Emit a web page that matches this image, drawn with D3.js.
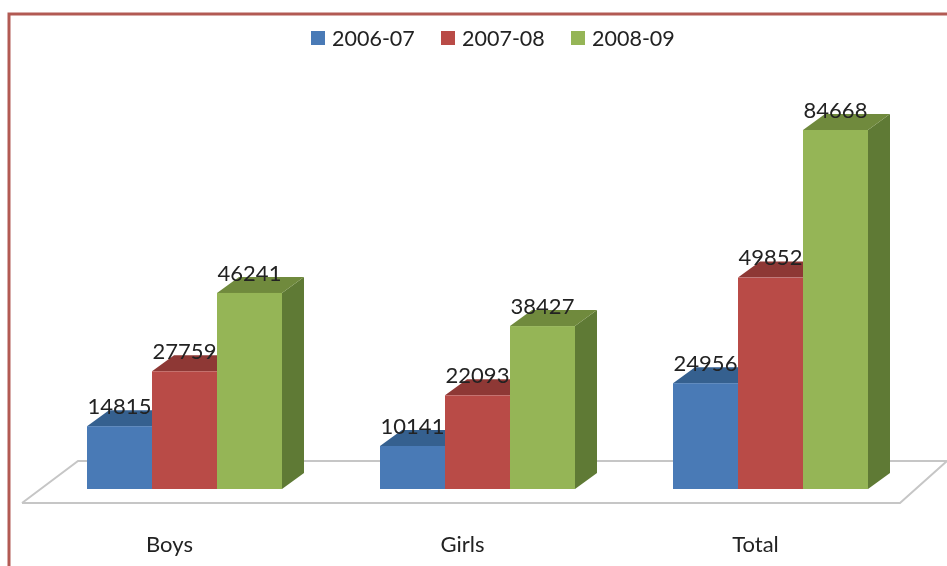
<!DOCTYPE html>
<html lang="en">
<head>
<meta charset="UTF-8" />
<title>Enrolment chart</title>
<style>
html, body { margin: 0; padding: 0; background: #fff; overflow: hidden; }
svg { display: block; }
text { font-family: Lato, "Open Sans", sans-serif; fill: #222; }
</style>
</head>
<body>
<svg id="chart" width="947" height="566"></svg>
<script src="https://cdn.jsdelivr.net/npm/d3@7"></script>
<script>
const categories = ['Boys', 'Girls', 'Total'];
const seriesNames = ['2006-07', '2007-08', '2008-09'];
const values2006 = [14815, 10141, 24956];
const values2007 = [27759, 22093, 49852];
const values2008 = [46241, 38427, 84668];
const seriesValues = [values2006, values2007, values2008];

const frontColors = ['#4a7ab6', '#b94b47', '#95b556'];
const topColors = ['#35608f', '#8e3835', '#708a3d'];
const sideColors = ['#2f557f', '#7d302e', '#5f7a34'];

const depthX = 22, depthY = -16; // fake 3d offset
const svg = d3.select('#chart');

const defs = svg.append('defs');
defs.append('filter').attr('id', 'soft').append('feGaussianBlur').attr('stdDeviation', 0.55);

const x0 = d3.scaleBand().domain(categories).range([38, 917]).paddingInner(98 / 293).paddingOuter(49 / 293);
const x1 = d3.scaleBand().domain(seriesNames).range([0, x0.bandwidth()]);
const y = d3.scaleLinear().domain([0, 84668]).range([489, 130]);

const root = svg.append('g').attr('filter', 'url(#soft)');

// frame
root.append('path').attr('d', 'M9,566V14H947').attr('fill', 'none').attr('stroke', '#b25a52').attr('stroke-width', 3);

// floor
const floorFront = y(0) + 14, floorBack = y(0) - 28;
root.append('path')
  .attr('d', `M22,${floorFront}L78,${floorBack}H947M22,${floorFront}H900L947,${floorBack}`)
  .attr('fill', 'none').attr('stroke', '#c6c6c6').attr('stroke-width', 2);

// bars, left to right so each covers the side of the one before
const poly = pts => 'M' + pts.map(p => p.join(',')).join('L') + 'Z';
categories.forEach((cat, c) => {
  seriesNames.forEach((name, s) => {
    const v = seriesValues[s][c];
    const left = x0(cat) + x1(name), right = left + x1.bandwidth();
    const g = root.append('g');
    g.append('path').attr('fill', sideColors[s]).attr('d', poly([
      [right, y(v)], [right + depthX, y(v) + depthY], [right + depthX, y(0) + depthY], [right, y(0)]
    ]));
    g.append('path').attr('fill', topColors[s]).attr('d', poly([
      [left, y(v)], [left + depthX, y(v) + depthY], [right + depthX, y(v) + depthY], [right, y(v)]
    ]));
    g.append('rect').attr('x', left).attr('y', y(v)).attr('width', x1.bandwidth()).attr('height', y(0) - y(v)).attr('fill', frontColors[s]);
  });
});

// value labels on top of everything
categories.forEach((cat, c) => {
  seriesNames.forEach((name, s) => {
    const v = seriesValues[s][c];
    root.append('text')
      .attr('x', x0(cat) + x1(name) + x1.bandwidth() / 2)
      .attr('y', y(v) - 20)
      .attr('dy', '0.35em')
      .attr('text-anchor', 'middle')
      .attr('font-size', 22)
      .text(v);
  });
});

// category labels
root.selectAll('.cat').data(categories).enter().append('text')
  .attr('class', 'cat')
  .attr('x', d => x0(d) + x0.bandwidth() / 2 - 15)
  .attr('y', 544)
  .attr('dy', '0.35em')
  .attr('text-anchor', 'middle')
  .attr('font-size', 22)
  .text(d => d);

// legend
const legend = root.selectAll('.leg').data(seriesNames).enter().append('g')
  .attr('class', 'leg')
  .attr('transform', (d, i) => `translate(${311 + i * 130},31)`);
legend.append('rect').attr('width', 14).attr('height', 14).attr('fill', (d, i) => frontColors[i]);
legend.append('text').attr('x', 21).attr('y', 7).attr('dy', '0.35em').attr('font-size', 21.5).text(d => d);
</script>
</body>
</html>
